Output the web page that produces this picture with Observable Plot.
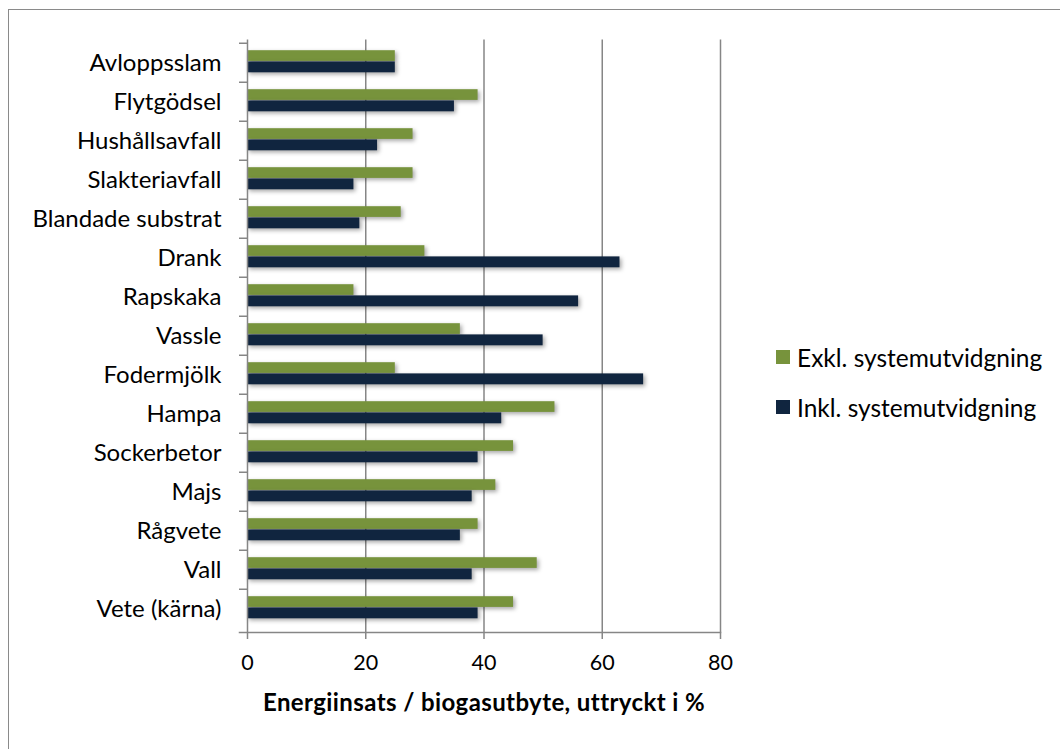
<!DOCTYPE html>
<html><head><meta charset="utf-8">
<script src="https://cdn.jsdelivr.net/npm/d3@7"></script>
<script src="https://cdn.jsdelivr.net/npm/@observablehq/plot@0.6"></script>
<style>
body{margin:0;background:#fff;overflow:hidden;width:1060px;height:749px;position:relative;font-family:Lato,sans-serif;}
#frame{position:absolute;left:8px;top:9px;width:1100px;height:800px;border:1.5px solid #8a8a8a;}
#chart{position:absolute;left:0;top:0;}
#chart svg{overflow:visible;}
#chart g[aria-label="bar"] rect{filter:drop-shadow(2px 2px 2px rgba(0,0,0,0.35));}
#chart g[aria-label="text"] text{letter-spacing:0.4px;}
#legend{position:absolute;left:776px;top:344px;font-size:24.5px;color:#000;}
#legend .row{display:flex;align-items:center;height:26px;margin-bottom:24px;}
#legend .sw{width:14px;height:14px;margin-right:7px;}
</style></head>
<body>
<div id="frame"></div>
<div id="chart"></div>
<div id="legend"></div>
<script>
const categories = ["Avloppsslam","Flytgödsel","Hushållsavfall","Slakteriavfall","Blandade substrat","Drank","Rapskaka","Vassle","Fodermjölk","Hampa","Sockerbetor","Majs","Rågvete","Vall","Vete (kärna)"];
const exkl = [25,39,28,28,26,30,18,36,25,52,45,42,39,49,45];
const inkl = [25,35,22,18,19,63,56,50,67,43,39,38,36,38,39];
const seriesNames = ["Exkl. systemutvidgning","Inkl. systemutvidgning"];
const colors = ["#77933C","#10253F"];
const xTicks = [0,20,40,60,80];
const xLabel = "Energiinsats / biogasutbyte, uttryckt i %";

const exklData = categories.map((c,i)=>({cat:c, value:exkl[i]}));
const inklData = categories.map((c,i)=>({cat:c, value:inkl[i]}));

const marginTop = 39.5, marginBottom = 117, height = 749;
const step = (height - marginTop - marginBottom) / categories.length;

const chart = Plot.plot({
  width: 1060, height,
  marginLeft: 247, marginRight: 340, marginTop, marginBottom,
  x: {domain: [0, 80]},
  y: {domain: categories, padding: 0},
  style: {fontFamily: "Lato, sans-serif", fontSize: "20px", color: "#000", background: "transparent"},
  marks: [
    Plot.gridX(xTicks.slice(1), {stroke: "#868686", strokeOpacity: 1, strokeWidth: 1.5}),
    Plot.barX(exklData, {x: "value", y: "cat", fill: colors[0], insetTop: 7.2, insetBottom: step - 7.2 - 11.2}),
    Plot.barX(inklData, {x: "value", y: "cat", fill: colors[1], insetTop: 18.4, insetBottom: step - 18.4 - 11.4}),
    Plot.ruleX([0], {stroke: "#868686", strokeWidth: 1.5}),
    Plot.frame({anchor: "bottom", stroke: "#868686", strokeWidth: 1.5, insetLeft: -8}),
    Plot.axisY({tickSize: 0, tickPadding: 26, label: null, fill: "#000", fontSize: 24}),
    Plot.axisY({tickSize: 8, tickFormat: () => "", label: null, stroke: "#868686", strokeWidth: 1.5, dy: -step/2}),
    Plot.axisX(xTicks, {tickSize: 7, tickPadding: 15, label: null, stroke: "#868686", strokeWidth: 1.5, fill: "#000", fontSize: 21.5}),
    Plot.text([xLabel], {frameAnchor: "bottom", lineAnchor: "middle", dy: 71, fontWeight: "bold", fill: "#000", fontSize: 24})
  ]
});
document.getElementById("chart").appendChild(chart);

const legend = document.getElementById("legend");
seriesNames.forEach((s,i)=>{
  const row = document.createElement("div"); row.className = "row";
  const sw = document.createElement("div"); sw.className = "sw"; sw.style.background = colors[i];
  const t = document.createElement("span"); t.textContent = s;
  row.appendChild(sw); row.appendChild(t); legend.appendChild(row);
});
</script>
</body></html>
